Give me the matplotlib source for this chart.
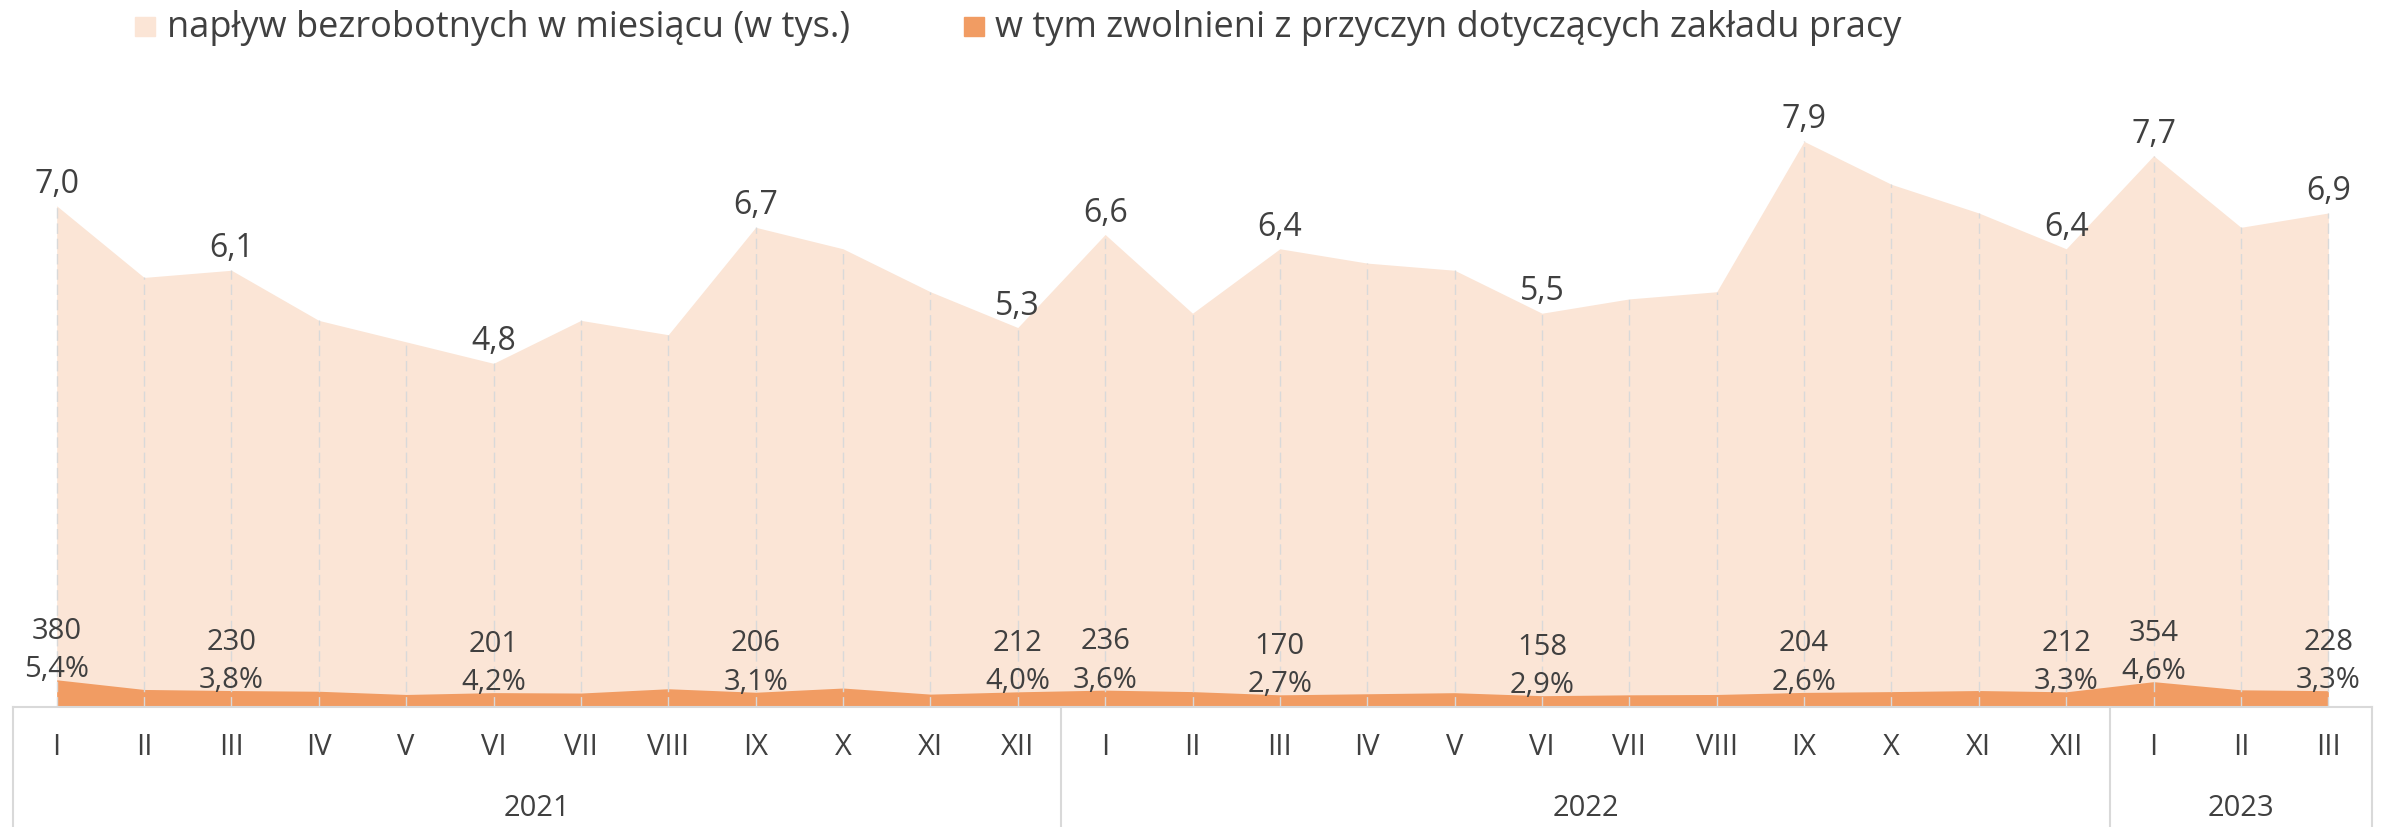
import matplotlib.pyplot as plt
from matplotlib.patches import Rectangle

plt.rcParams['font.family'] = ['Open Sans', 'DejaVu Sans']

# months on the category axis (2021-01 .. 2023-03)
months = ['I', 'II', 'III', 'IV', 'V', 'VI', 'VII', 'VIII', 'IX', 'X', 'XI', 'XII'] * 2 + ['I', 'II', 'III']
years = ['2021', '2022', '2023']
year_centers = [5.5, 17.5, 25.0]
year_breaks = [11.5, 23.5]

# inflow of unemployed per month (thousands)
inflow = [7.0, 6.0, 6.1, 5.4, 5.1, 4.8, 5.4, 5.2, 6.7, 6.4, 5.8, 5.3,
          6.6, 5.5, 6.4, 6.2, 6.1, 5.5, 5.7, 5.8, 7.9, 7.3, 6.9, 6.4,
          7.7, 6.7, 6.9]
# of which dismissed for reasons concerning the employer (persons)
dismissed = [380, 245, 230, 220, 175, 201, 195, 255, 206, 265, 180, 212,
             236, 215, 170, 185, 200, 158, 170, 175, 204, 215, 230, 212,
             354, 240, 228]
# labelled months and share of dismissed in inflow (%)
label_idx = [0, 2, 5, 8, 11, 12, 14, 17, 20, 23, 24, 26]
share_pct = [5.4, 3.8, 4.2, 3.1, 4.0, 3.6, 2.7, 2.9, 2.6, 3.3, 4.6, 3.3]

light = '#FBE5D6'
orange = '#F19C63'
grid = '#D9D9D9'
txt = '#404040'

W, H = 2384, 828
fig = plt.figure(figsize=(W / 100, H / 100), dpi=100)

left = 13 / W
width = (2372 - 13) / W
base = (H - 708) / H
top = (H - 40) / H
ax = fig.add_axes([left, base, width, top - base])
ax2 = fig.add_axes([left, 0, width, base])

x = list(range(len(inflow)))
dis_k = [d / 1000 for d in dismissed]

ax.fill_between(x, 0, inflow, color=light, lw=0, zorder=1)
ax.fill_between(x, 0, dis_k, color=orange, lw=0, zorder=2)
ax.vlines(x, 0, inflow, colors=grid, linestyles=(0, (7.5, 3.5)), lw=1.0, zorder=3)

def fmt(v):
    return f'{v:.1f}'.replace('.', ',')

for i, p in zip(label_idx, share_pct):
    ax.annotate(fmt(inflow[i]), (i, inflow[i]), xytext=(0, 10), textcoords='offset points',
                ha='center', va='baseline', fontsize=23, color=txt)
    ax.annotate(f'{fmt(p)}%', (i, dis_k[i]), xytext=(0, 2.5), textcoords='offset points',
                ha='center', va='baseline', fontsize=21, color=txt)
    ax.annotate(str(dismissed[i]), (i, dis_k[i]), xytext=(0, 30.2), textcoords='offset points',
                ha='center', va='baseline', fontsize=21, color=txt)

ax.set_xlim(-0.5, 26.5)
ax.set_ylim(0, 9.33)
ax.axis('off')

# category box below the plot
ax2.set_xlim(-0.5, 26.5)
ax2.set_ylim(0, 1)
ax2.set_xticks([])
ax2.set_yticks([])
for s in ['top', 'left', 'right']:
    ax2.spines[s].set_color(grid)
    ax2.spines[s].set_linewidth(1.5)
ax2.spines['bottom'].set_visible(False)
for b in year_breaks:
    ax2.plot([b, b], [0, 1], color=grid, lw=1.5)
for i, m in enumerate(months):
    ax2.text(i, 1 - 39.5 / 120, m, ha='center', va='center', fontsize=21, color=txt)
for c, y in zip(year_centers, years):
    ax2.text(c, 1 - 101 / 120, y, ha='center', va='center', fontsize=21, color=txt)

# legend
fig.patches.append(Rectangle((135 / W, (H - 37) / H), 20 / W, 19 / H, color=light,
                             transform=fig.transFigure, figure=fig))
fig.text(167 / W, (H - 36.7) / H, 'napływ bezrobotnych w miesiącu (w tys.)',
         ha='left', va='baseline', fontsize=26, color=txt)
fig.patches.append(Rectangle((964 / W, (H - 37) / H), 20 / W, 19 / H, color=orange,
                             transform=fig.transFigure, figure=fig))
fig.text(995 / W, (H - 36.7) / H, 'w tym zwolnieni z przyczyn dotyczących zakładu pracy',
         ha='left', va='baseline', fontsize=26, color=txt)

fig.savefig('out.png', dpi=100)
